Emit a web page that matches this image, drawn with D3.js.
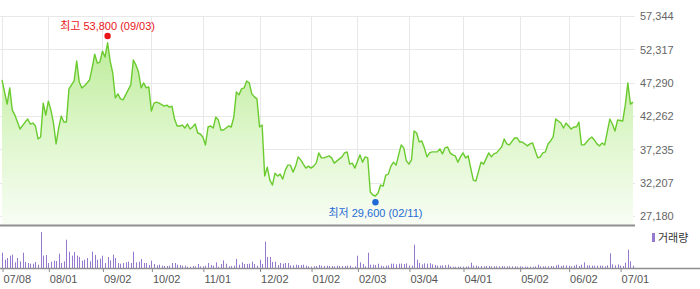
<!DOCTYPE html>
<html>
<head>
<meta charset="utf-8">
<script src="https://cdn.jsdelivr.net/npm/d3@7"></script>
<style>
body { margin: 0; background: #fff; }
text { font-family: "Liberation Sans", "Noto Sans CJK KR", sans-serif; font-size: 11px; }
</style>
</head>
<body>
<svg id="chart" width="700" height="289"></svg>
<script>
// price axis ticks (right side)
const priceTicks = [57344, 52317, 47290, 42262, 37235, 32207, 27180];

// month labels and the trading-day index they sit on
const dateLabels = ['07/08', '08/01', '09/02', '10/02', '11/01', '12/02', '01/02', '02/03', '03/04', '04/01', '05/02', '06/02', '07/01'];
const dateDays = [0, 18, 39, 58, 78, 100, 120, 138, 158, 179, 201, 220, 240];

// [trading day, close]
const closes = [
    [0, 47700], [2, 44050], [3, 46500], [4, 43150], [5, 42400], [7, 40300], [9, 41350], [10, 41800],
    [11, 41050], [12, 41200], [13, 40750], [14, 38800], [15, 39100], [16, 44200], [17, 42400], [18, 44500],
    [19, 43150], [20, 41200], [21, 38050], [22, 40450], [23, 42250], [24, 41350], [25, 41350], [26, 46350],
    [27, 46950], [28, 47550], [29, 50550], [30, 47400], [31, 46500], [32, 46800], [33, 47250], [34, 47700],
    [35, 49500], [36, 51600], [37, 50250], [38, 50400], [39, 52050], [40, 51150], [41, 53300], [42, 50550],
    [43, 48750], [44, 45000], [45, 45600], [46, 44850], [47, 44700], [48, 45450], [50, 46950], [51, 50700],
    [52, 49950], [53, 48900], [54, 46500], [55, 47250], [56, 46500], [57, 46650], [58, 43000], [59, 44200],
    [60, 44350], [61, 44200], [63, 43750], [64, 43900], [65, 43600], [66, 43750], [67, 41800], [68, 40750],
    [69, 40750], [70, 40900], [71, 40450], [72, 41050], [73, 40300], [74, 40600], [75, 41050], [76, 39700],
    [77, 39550], [78, 39100], [79, 37900], [80, 40600], [81, 40750], [82, 40450], [83, 42100], [84, 41650],
    [85, 40150], [86, 40150], [87, 40450], [88, 40750], [89, 40600], [90, 42100], [91, 45900], [92, 45450],
    [93, 46350], [94, 46500], [95, 47550], [96, 47250], [97, 45600], [98, 45150], [99, 44850], [100, 40600],
    [101, 40900], [102, 33200], [103, 34550], [104, 32600], [105, 31850], [106, 33650], [107, 33200], [108, 33500],
    [109, 32750], [110, 34100], [111, 34850], [112, 34850], [113, 33800], [114, 34700], [115, 36100], [116, 35650],
    [117, 35000], [118, 34400], [119, 34700], [120, 34400], [121, 34700], [122, 35150], [123, 36700], [124, 35950],
    [125, 35950], [127, 36250], [128, 35950], [129, 35150], [131, 35800], [132, 36100], [133, 36700], [134, 36850],
    [135, 35000], [136, 35150], [137, 34400], [139, 36400], [140, 35300], [141, 36100], [142, 35950], [143, 30800],
    [144, 30350], [145, 30200], [146, 30650], [147, 31850], [148, 31700], [149, 33350], [150, 33500], [151, 34700],
    [152, 35300], [153, 34850], [154, 36400], [155, 37900], [156, 37450], [157, 35500], [158, 35000], [159, 35650],
    [160, 40000], [161, 39700], [162, 38350], [163, 38500], [164, 37450], [165, 36100], [166, 36700], [167, 36850],
    [169, 36850], [170, 37300], [171, 36550], [172, 37450], [173, 37600], [174, 36700], [175, 36400], [176, 36250],
    [177, 35300], [178, 36100], [179, 36700], [180, 35950], [181, 36250], [182, 34400], [183, 32600], [184, 32450],
    [186, 35300], [187, 35000], [189, 36700], [190, 36100], [191, 36550], [192, 36700], [194, 37600], [195, 38800],
    [196, 38050], [197, 37900], [199, 38950], [200, 38950], [201, 38350], [202, 38350], [204, 37750], [205, 38050],
    [206, 38200], [208, 35950], [209, 36100], [210, 36700], [211, 36850], [212, 38050], [213, 38500], [214, 39100],
    [215, 41800], [217, 41200], [218, 40450], [219, 41200], [221, 40300], [222, 40600], [223, 40600], [224, 41350],
    [225, 37900], [226, 37900], [228, 38800], [229, 39100], [230, 38650], [231, 38050], [232, 37750], [233, 38200],
    [234, 37900], [236, 41800], [237, 41050], [238, 40000], [239, 41650], [241, 41500], [242, 43900], [243, 47250],
    [244, 44050], [245, 44350]
];

// daily volume (thousand shares), one per trading day
const volumes = [
    920, 500, 600, 740, 800, 340, 600, 400, 920, 360, 300, 260, 260, 360, 200, 2160,
    740, 780, 300, 380, 440, 420, 860, 300, 400, 1700, 980, 740, 960, 740, 660, 440,
    500, 600, 400, 980, 780, 500, 560, 740, 300, 660, 460, 800, 600, 300, 260, 300,
    340, 380, 300, 980, 340, 380, 540, 300, 300, 180, 440, 240, 160, 200, 140, 120,
    120, 140, 300, 300, 200, 180, 140, 140, 80, 80, 120, 100, 240, 100, 100, 140,
    300, 180, 140, 340, 80, 240, 460, 260, 100, 120, 140, 540, 200, 340, 240, 240,
    260, 380, 240, 140, 500, 240, 1580, 660, 660, 360, 380, 180, 300, 260, 300, 300,
    160, 160, 200, 180, 180, 200, 140, 100, 80, 100, 120, 180, 140, 120, 140, 120,
    120, 100, 140, 120, 120, 120, 140, 140,
    40, 100, 740, 340, 240, 100, 920, 200, 200, 180, 260, 140, 100, 140, 160, 260,
    260, 220, 260, 260, 240, 280, 140, 140, 1400, 500, 300, 220, 280, 260, 280, 220,
    180, 140, 140, 160, 180, 200, 100, 80, 80, 80, 80, 80, 80, 100, 320, 140,
    140, 100, 120, 100, 120, 120, 100, 100, 100, 100, 120, 100, 100, 100, 100, 100,
    80, 100, 80, 80, 80, 80, 80, 100, 200, 100, 100, 100, 100, 120, 100, 160,
    200, 120, 160, 160, 140, 100, 140, 200, 120, 200, 340, 160, 160, 140, 140, 140,
    140, 140, 100, 160, 880, 220, 160, 220, 140, 120, 320, 1100, 400, 140
];

// 52-week extremes: [label, price, date, trading day]
const highMark = ['최고', 53800, '09/03', 41];
const lowMark = ['최저', 29600, '02/11', 145];

const svg = d3.select('#chart');
const plot = { left: 2, right: 633, top: 16, bottom: 225 };

const x = d3.scaleLinear().domain([0, 245]).range([plot.left, plot.right]);
const y = d3.scaleLinear().domain([27180, 57344]).range([216, 16]);
const vy = d3.scaleLinear().domain([0, d3.max(volumes)]).range([268, 232]);
const fmt = d3.format(',');
const crisp = (v) => Math.round(v) + 0.5;

const defs = svg.append('defs');
const grad = defs.append('linearGradient')
    .attr('id', 'areaFill')
    .attr('gradientUnits', 'userSpaceOnUse')
    .attr('x1', 0).attr('x2', 0)
    .attr('y1', 40).attr('y2', plot.bottom);
grad.append('stop').attr('offset', 0).attr('stop-color', '#bdec99');
grad.append('stop').attr('offset', 0.55).attr('stop-color', '#e0f7cf');
grad.append('stop').attr('offset', 1).attr('stop-color', '#f8fdf4');

// grid
svg.append('g')
    .selectAll('line')
    .data(priceTicks)
    .join('line')
    .attr('x1', 0).attr('x2', 635)
    .attr('y1', (d) => crisp(y(d))).attr('y2', (d) => crisp(y(d)))
    .attr('stroke', '#e8e8e8');

svg.append('g')
    .selectAll('line')
    .data(dateDays)
    .join('line')
    .attr('x1', (d) => crisp(x(d))).attr('x2', (d) => crisp(x(d)))
    .attr('y1', plot.top).attr('y2', plot.bottom)
    .attr('stroke', '#e8e8e8');

// price area + line
const area = d3.area()
    .x((d) => x(d[0]))
    .y0(plot.bottom)
    .y1((d) => y(d[1]));
const line = d3.line()
    .x((d) => x(d[0]))
    .y((d) => y(d[1]));

svg.append('path').datum(closes).attr('d', area).attr('fill', 'url(#areaFill)');
svg.append('path').datum(closes)
    .attr('d', line)
    .attr('fill', 'none')
    .attr('stroke', '#6acb2f')
    .attr('stroke-width', 1.4)
    .attr('stroke-linejoin', 'round');

// separator between price and volume panels
svg.append('line')
    .attr('x1', 0).attr('x2', 635)
    .attr('y1', plot.bottom + 0.5).attr('y2', plot.bottom + 0.5)
    .attr('stroke', '#8f8f8f').attr('stroke-width', 2);

// volume bars
svg.append('g')
    .selectAll('rect')
    .data(volumes)
    .join('rect')
    .attr('x', (d, i) => Math.round(x(i)))
    .attr('width', 1)
    .attr('y', (d) => vy(d))
    .attr('height', (d) => 268 - vy(d))
    .attr('fill', '#9479cf');

// right price axis
const yAxis = svg.append('g')
    .attr('transform', 'translate(640,0)')
    .call(d3.axisRight(y).tickValues(priceTicks).tickFormat(fmt).tickSize(0).tickPadding(0));
yAxis.select('.domain').remove();
yAxis.selectAll('text').attr('fill', '#666').attr('font-size', 11).attr('font-family', null).attr('dy', '0.36em');

// bottom date axis
const xAxis = svg.append('g')
    .attr('transform', 'translate(0,268)')
    .call(d3.axisBottom(x).tickValues(dateDays).tickFormat((d, i) => dateLabels[i]).tickSize(4).tickPadding(3));
xAxis.select('.domain').remove();
xAxis.selectAll('line').attr('stroke', '#8f8f8f').attr('transform', 'translate(0.5,0)');
xAxis.selectAll('text')
    .attr('text-anchor', 'start')
    .attr('x', 1)
    .attr('fill', '#555')
    .attr('font-size', 11)
    .attr('font-family', null);

svg.append('line')
    .attr('x1', 0).attr('x2', 700)
    .attr('y1', 268.5).attr('y2', 268.5)
    .attr('stroke', '#8f8f8f').attr('stroke-width', 1.5);

// legend
svg.append('rect').attr('x', 652).attr('y', 233).attr('width', 3).attr('height', 9).attr('fill', '#9479cf');
svg.append('text').attr('x', 658).attr('y', 241.5).attr('fill', '#333').text('거래량');

// high / low markers
function drawMark(mark, color, dotOffset, textY) {
    const cx = x(mark[3]);
    const cy = y(mark[1]) + dotOffset;
    svg.append('circle').attr('cx', cx).attr('cy', cy).attr('r', 3.2).attr('fill', color);
    svg.append('text')
        .attr('x', cx)
        .attr('y', textY)
        .attr('text-anchor', 'middle')
        .attr('fill', color)
        .text(`${mark[0]} ${fmt(mark[1])} (${mark[2]})`);
}
drawMark(highMark, '#e8141a', -3.5, 29.5);
drawMark(lowMark, '#1e6bd6', 2.3, 216.5);
</script>
</body>
</html>
